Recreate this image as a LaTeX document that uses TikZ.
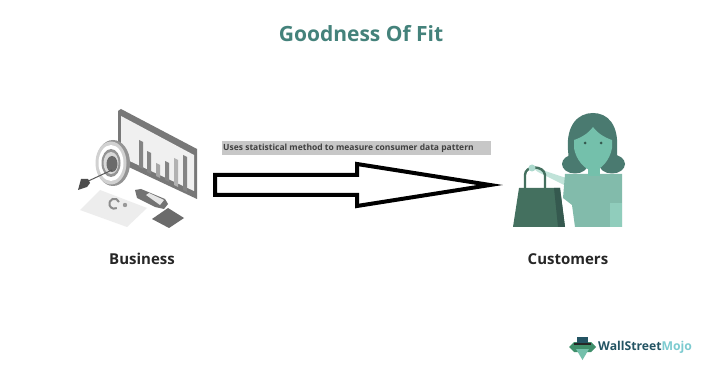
\documentclass[tikz,border=0pt]{standalone}
\usepackage{fontspec}
\setmainfont{Open Sans}
\definecolor{titleteal}{HTML}{44827B}
\definecolor{hair}{HTML}{4A7A70}
\definecolor{skin}{HTML}{74C0AB}
\definecolor{shirt}{HTML}{82BBAB}
\definecolor{bagdark}{HTML}{44705F}
\definecolor{bagshade}{HTML}{35594F}
\definecolor{frame}{HTML}{787878}
\definecolor{screen}{HTML}{F0F0F0}
\definecolor{barc}{HTML}{848484}
\definecolor{navy}{HTML}{235463}
\definecolor{mojo}{HTML}{7CCBD0}
\definecolor{logogreen}{HTML}{3F8F6B}
\tikzset{
  caption/.style={font=\bfseries\fontsize{15}{17}\selectfont, text=black!85, inner sep=0pt},
  bar/.style={fill=barc, draw=none},
  bigarrow/.style={draw=black, line width=4pt, fill=white, line join=miter, miter limit=10},
}
\begin{document}
\begin{tikzpicture}[x=1pt,y=-1pt]
\useasboundingbox (0,0) rectangle (720,390);
\fill[white] (0,0) rectangle (720,390);

\node[inner sep=0pt, text=titleteal, font=\bfseries\fontsize{21}{24}\selectfont] (title) at (361,34) {Goodness Of Fit};

% monitor
\fill[frame] (118,111) -- (121,109) -- (197,149) -- (197,199) -- (118,162) -- cycle;
\fill[screen] (121,116) -- (194,155) -- (194,191) -- (121,157) -- cycle;
\fill[bar] (139,140) -- (143,142) -- (143,169) -- (139,167) -- cycle;
\fill[bar] (147,151) -- (151,153) -- (151,174) -- (147,172) -- cycle;
\fill[black!35] (156,163) -- (160,165) -- (160,178) -- (156,176) -- cycle;
\fill[bar] (165,161) -- (169,163) -- (169,182) -- (165,180) -- cycle;
\fill[black!30] (174,158) -- (178,160) -- (178,187) -- (174,185) -- cycle;
\fill[bar] (183,155) -- (187,157) -- (187,192) -- (183,190) -- cycle;

% target with its dart
\fill[black!42] (113,163) ellipse (17 and 23);
\fill[black!18] (111,163) ellipse (15.5 and 21.5);
\fill[white] (111,163) ellipse (12.5 and 18);
\fill[black!42] (111,163) ellipse (9.5 and 14);
\fill[white!85!black] (111,163) ellipse (7.5 and 11);
\fill[black!58] (112,164) ellipse (5.5 and 8);
\draw[black!65, line width=1pt] (112,170) -- (84,183);
\fill[black!70] (88,179) -- (81,179) -- (78,190) -- (81,189) -- (87,187) -- (90,183) -- cycle;

% document lying on the desk
\fill[black!7] (80,210) -- (100,190) -- (147,208) -- (127,227) -- cycle;
\draw[black!45, line width=2pt] (119,202) arc (-20:-300:5 and 5);
\fill[black!40] (125,205) circle (2.2);

% stand and tablet
\fill[black!55] (135,190) -- (141,189) -- (165,199) -- (168,204) -- (164,209) -- (155,207) -- (137,198) -- cycle;
\fill[black!10] (146,195) -- (149,193) -- (164,200) -- (160,205) -- cycle;
\fill[black!58] (152,219) -- (168,208) -- (184,218) -- (169,228) -- cycle;

% customer: shirt and arm
\fill[skin!45!white] (530,166) -- (566,178) -- (566,186) -- (538,172) -- cycle;
\fill[shirt] (565,174) -- (622,174) -- (622,227) -- (575,227) -- (572,205) -- (563,198) -- cycle;
\fill[skin!80!white] (610,203) rectangle (622,227);

% customer: hair with the two buns at the shoulders
\fill[hair] (575,164) ellipse (13 and 9.5);
\fill[hair] (612,164) ellipse (13 and 9.5);
\fill[hair] (568,150) .. controls (566,125) and (578,113) .. (593,113) .. controls (608,113) and (619,125) .. (617,150) -- (617,162) -- (569,162) -- cycle;

% customer: neck and face
\fill[skin] (588,160) rectangle (600,176);
\fill[skin] (593,127) .. controls (588,134) and (580,138) .. (574,140) -- (574,148) .. controls (576,160) and (585,170) .. (593,171) .. controls (601,170) and (610,160) .. (612,148) -- (612,140) .. controls (606,138) and (598,134) .. (593,127) -- cycle;
\fill[bagshade] (585,143) circle (1.5);
\fill[bagshade] (601,143) circle (1.5);

% customer: bag and the hand holding it
\fill[bagdark] (519,188) -- (560,188) -- (565,227) -- (513,227) -- cycle;
\fill[bagshade] (554,188) -- (560,188) -- (565,227) -- (558,227) -- cycle;
\draw[bagdark, line width=2.4pt] (525,189) -- (525,175) .. controls (525,165) and (544,165) .. (545,175) -- (545,189);
\fill[skin!60!white] (532,168) circle (3.5);

% arrow from business to customers
\coordinate (tailtop) at (215,175);
\coordinate (tailbottom) at (215,195);
\coordinate (necktop) at (357,175);
\coordinate (neckbottom) at (357,195);
\coordinate (headtop) at (357,164);
\coordinate (headbottom) at (357,206);
\coordinate (tip) at (490,185);
\draw[bigarrow] (tailtop) -- (necktop) -- (headtop) -- (tip) -- (headbottom) -- (neckbottom) -- (tailbottom) -- cycle;

\node[inner sep=0pt, minimum width=269pt, minimum height=14pt, fill=black!22] (band) at (356.5,148) {};
\node[inner sep=0pt, anchor=west, font=\bfseries\fontsize{8.5}{10}\selectfont, text=black!75] (label) at (223,148) {Uses statistical method to measure consumer data pattern};

\node[caption] (business) at (142,259) {Business};
\node[caption] (customers) at (568,259) {Customers};

% logo: mark and word
\fill[logogreen] (569,347) -- (574,342) -- (591,342) -- (596,347) -- (591,352) -- (574,352) -- cycle;
\fill[navy] (577,337) rectangle (588,344);
\fill[black!85] (574,343) rectangle (591,345);
\fill[skin] (576,349) -- (589,349) -- (582.5,360) -- cycle;
\node[inner sep=0pt, anchor=west, font=\bfseries\fontsize{12.2}{14}\selectfont] (logo) at (598,347) {\textcolor{navy}{WallStreet}\textcolor{mojo}{Mojo}};
\end{tikzpicture}
\end{document}
